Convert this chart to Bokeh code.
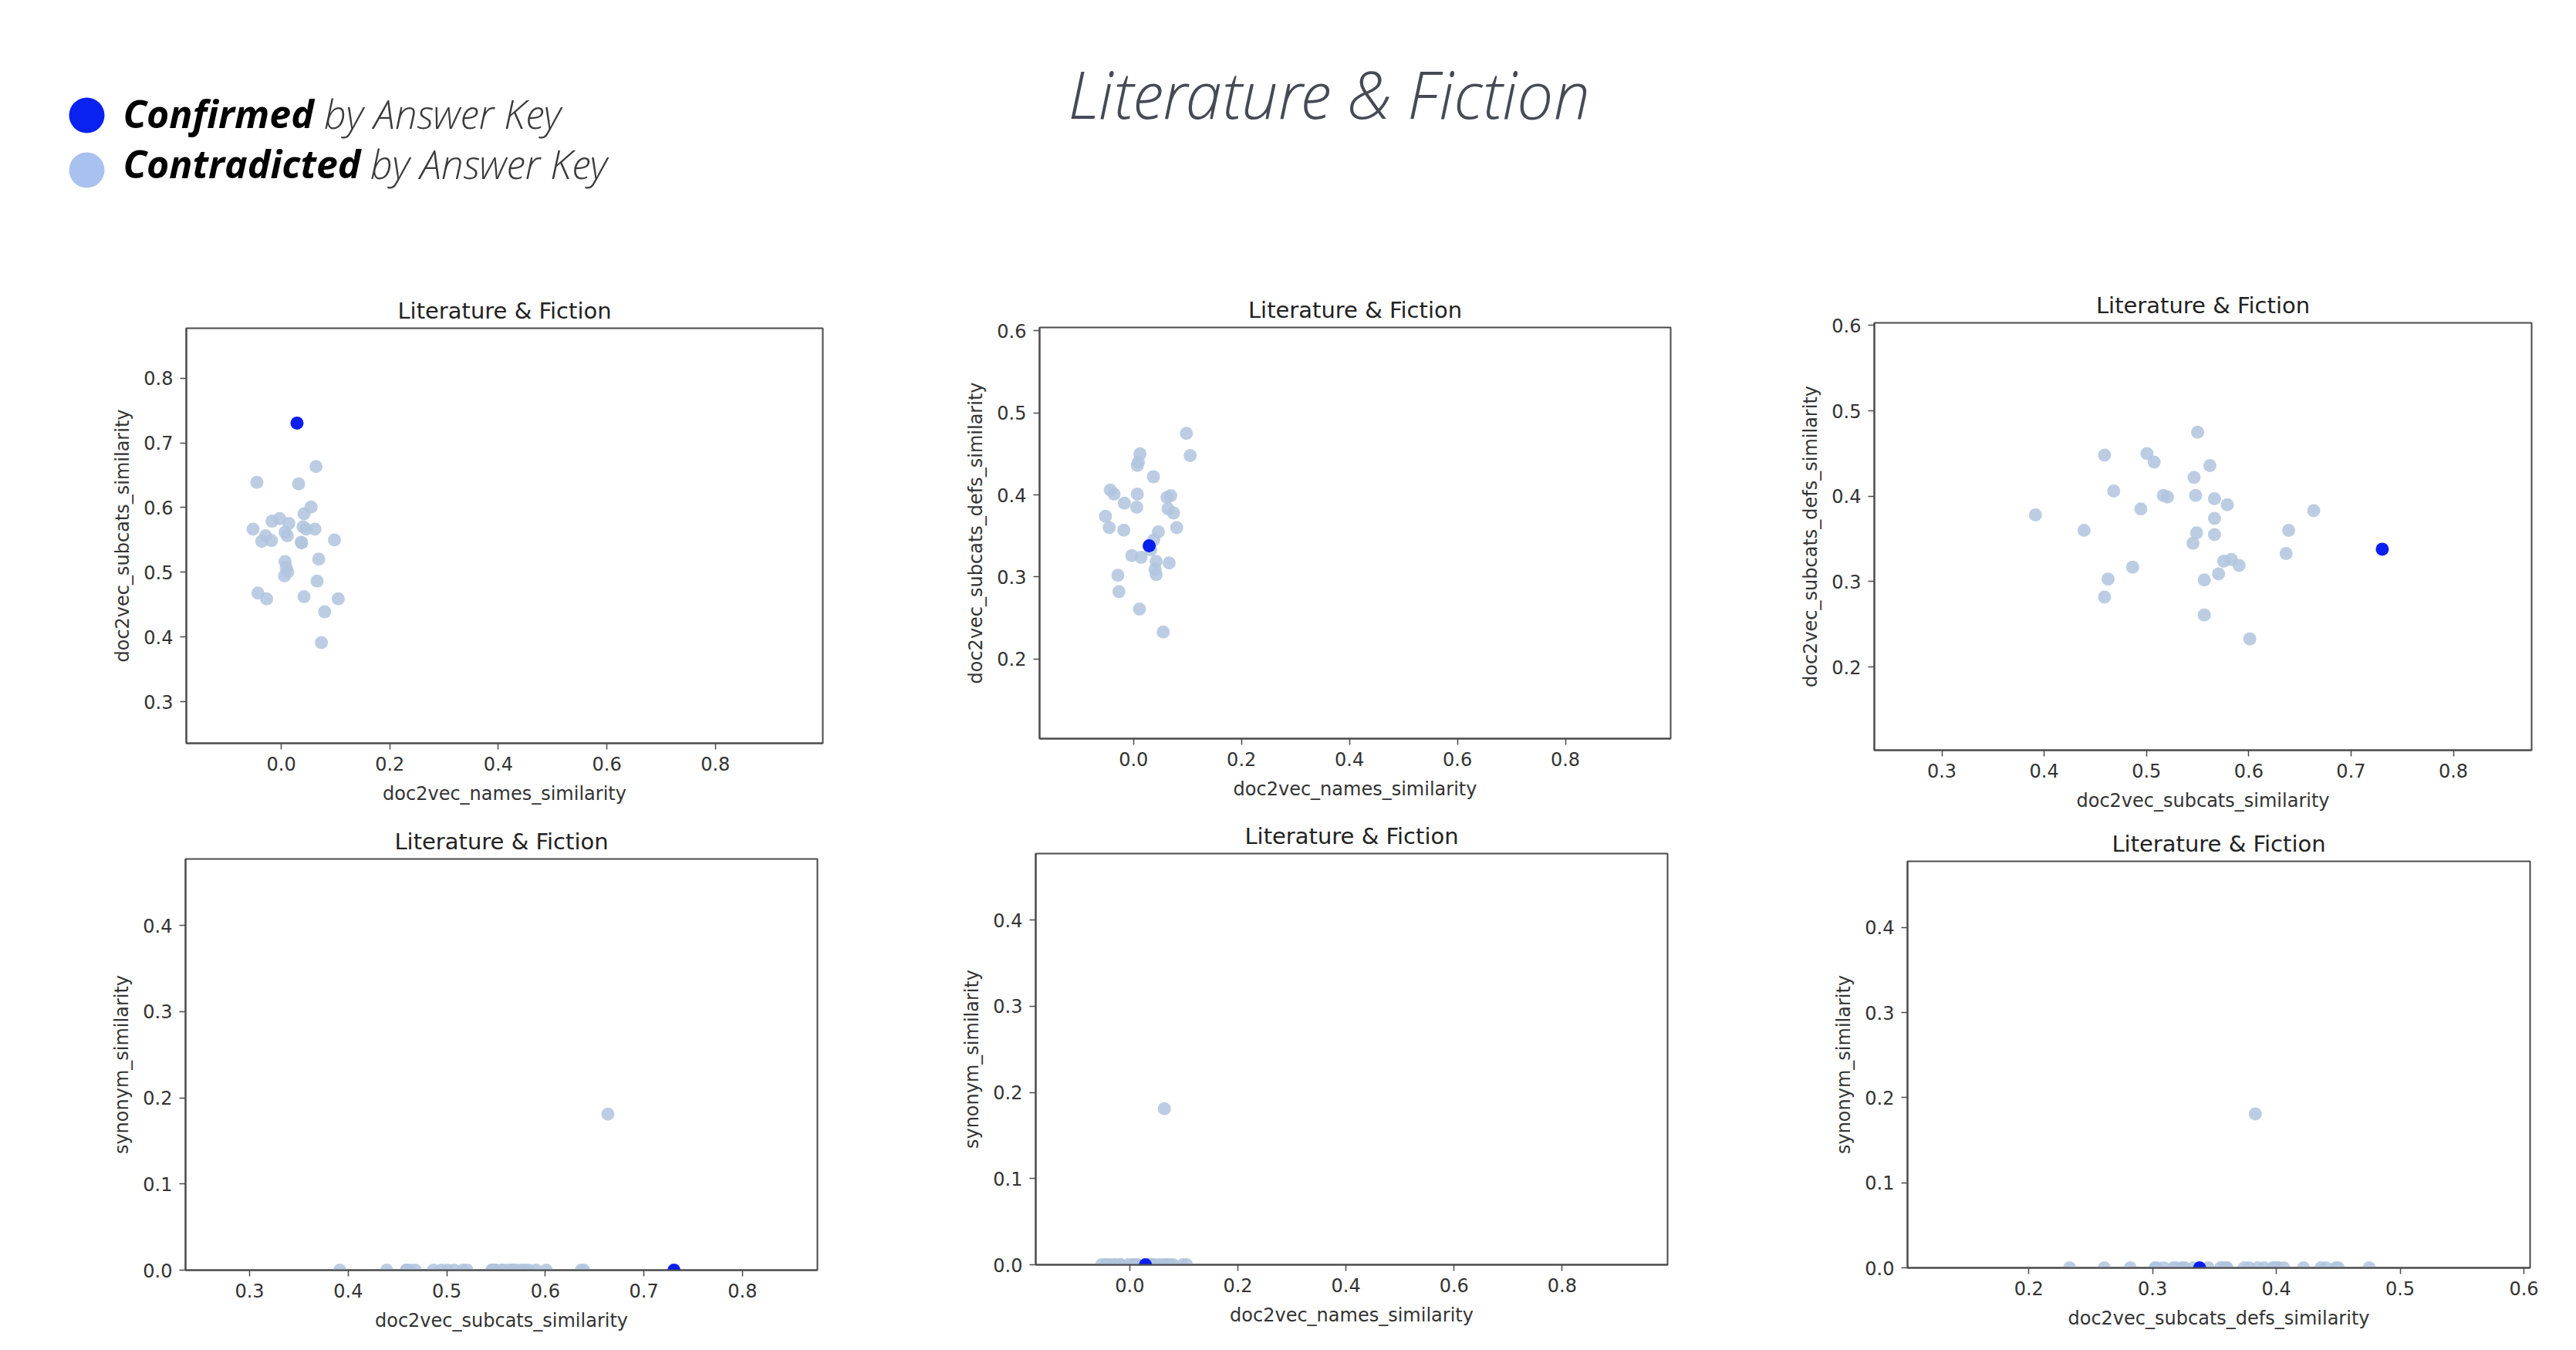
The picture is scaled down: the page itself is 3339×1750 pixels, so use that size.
from bokeh.plotting import figure
from bokeh.layouts import column, row
from bokeh.models import Range1d, FixedTicker, PrintfTickFormatter, ColumnDataSource
from bokeh.core.properties import value
from bokeh.embed import file_html
from bokeh.resources import INLINE

# ---------------- data ----------------
MAIN_TITLE = "Literature & Fiction"
PANEL_TITLE = "Literature & Fiction"
LEGEND_BOLD = ["Confirmed", "Contradicted"]
LEGEND_REST = "by Answer Key"

names_sim = [0.029, 0.098, 0.105, 0.012, 0.009, 0.007, 0.037, -0.043, 0.007, 0.069,
             -0.036, 0.062, -0.017, 0.006, 0.064, 0.074, -0.052, 0.080, -0.045, -0.018,
             0.046, 0.0375, 0.032, 0.014, -0.003, 0.042, 0.066, 0.040, 0.042, -0.029,
             -0.027, 0.011, 0.055]
subcats_sim = [0.7305, 0.550, 0.459, 0.5005, 0.5075, 0.562, 0.5465, 0.468, 0.5165, 0.5205,
               0.548, 0.5665, 0.579, 0.4945, 0.6635, 0.3915, 0.5665, 0.439, 0.639, 0.549,
               0.5665, 0.5455, 0.6365, 0.5755, 0.583, 0.5905, 0.4865, 0.5705, 0.4625, 0.5565,
               0.459, 0.5565, 0.601]
subcats_defs_sim = [0.338, 0.475, 0.448, 0.450, 0.440, 0.436, 0.422, 0.406, 0.401, 0.399,
                    0.401, 0.397, 0.390, 0.385, 0.383, 0.378, 0.374, 0.360, 0.360, 0.357,
                    0.355, 0.345, 0.333, 0.324, 0.326, 0.319, 0.317, 0.309, 0.303, 0.302,
                    0.282, 0.261, 0.233]
synonym_sim = [0.0, 0.0, 0.0, 0.0, 0.0, 0.0, 0.0, 0.0, 0.0, 0.0,
               0.0, 0.0, 0.0, 0.0, 0.181, 0.0, 0.0, 0.0, 0.0, 0.0,
               0.0, 0.0, 0.0, 0.0, 0.0, 0.0, 0.0, 0.0, 0.0, 0.0,
               0.0, 0.0, 0.0]
confirmed = [True] + [False] * 32

ticks_names = [0.0, 0.2, 0.4, 0.6, 0.8]
ticks_subcats_x = [0.3, 0.4, 0.5, 0.6, 0.7, 0.8]
ticks_subcats_y = [0.3, 0.4, 0.5, 0.6, 0.7, 0.8]
ticks_defs_y = [0.2, 0.3, 0.4, 0.5, 0.6]
ticks_defs_x = [0.2, 0.3, 0.4, 0.5, 0.6]
ticks_syn = [0.0, 0.1, 0.2, 0.3, 0.4]

series = {
    "doc2vec_names_similarity": names_sim,
    "doc2vec_subcats_similarity": subcats_sim,
    "doc2vec_subcats_defs_similarity": subcats_defs_sim,
    "synonym_similarity": synonym_sim,
}

# ---------------- styles ----------------
LIGHT = "#b0c4de"
BLUE = "#0a1ef0"
FRAME = "#4a4a4a"
TXT = "#333333"
FONT = "DejaVu Sans"

W = 3331
HEADER_H = 308
ROW1_H = 750
ROW2_H = 684


def panel(xname, yname, xr, yr, xt, yt, w, h, bl, br, bt, bb):
    p = figure(width=w, height=h, x_range=Range1d(*xr), y_range=Range1d(*yr),
               min_border_left=bl, min_border_right=br, min_border_top=bt,
               min_border_bottom=bb, toolbar_location=None, output_backend="svg",
               title=PANEL_TITLE)
    p.title.align = "center"
    p.title.text_font = FONT
    p.title.text_font_size = "29px"
    p.title.text_font_style = "normal"
    p.title.text_color = "#222222"
    p.title.standoff = 12
    p.xgrid.visible = False
    p.ygrid.visible = False
    p.background_fill_color = "white"
    p.border_fill_color = "white"
    p.outline_line_color = FRAME
    p.outline_line_width = 2
    for ax, ticks, lab in ((p.xaxis[0], xt, xname), (p.yaxis[0], yt, yname)):
        ax.ticker = FixedTicker(ticks=ticks)
        ax.formatter = PrintfTickFormatter(format="%.1f")
        ax.axis_label = lab
        ax.axis_label_text_font = FONT
        ax.axis_label_text_font_size = "24px"
        ax.axis_label_text_font_style = "normal"
        ax.axis_label_text_color = TXT
        ax.major_label_text_font = FONT
        ax.major_label_text_font_size = "24px"
        ax.major_label_text_color = TXT
        ax.axis_line_color = FRAME
        ax.axis_line_width = 2
        ax.major_tick_line_color = FRAME
        ax.major_tick_line_width = 1.5
        ax.major_tick_out = 8
        ax.major_tick_in = 0
        ax.minor_tick_out = 0
        ax.minor_tick_in = 0
    p.xaxis[0].major_label_standoff = 9
    p.xaxis[0].axis_label_standoff = 13
    p.yaxis[0].major_label_standoff = 9
    p.yaxis[0].axis_label_standoff = 10

    xs = series[xname]
    ys = series[yname]
    lx = [x for x, c in zip(xs, confirmed) if not c]
    ly = [y for y, c in zip(ys, confirmed) if not c]
    bx = [x for x, c in zip(xs, confirmed) if c]
    by = [y for y, c in zip(ys, confirmed) if c]
    p.scatter(lx, ly, size=17, fill_color=LIGHT, fill_alpha=0.85, line_color=None)
    p.scatter(bx, by, size=17, fill_color=BLUE, line_color=None)
    return p


N, S, D, Y = ("doc2vec_names_similarity", "doc2vec_subcats_similarity",
              "doc2vec_subcats_defs_similarity", "synonym_similarity")

# row 1 spans page y 308..1058, row 2 spans 1058..1742
p1 = panel(N, S, (-0.175, 0.998), (0.236, 0.877), ticks_names, ticks_subcats_y,
           1200, ROW1_H, 241, 134, 117, 95)
p2 = panel(N, D, (-0.174, 0.995), (0.103, 0.604), ticks_names, ticks_defs_y,
           1100, ROW1_H, 147, 135, 116, 101)
p3 = panel(S, D, (0.234, 0.8765), (0.1026, 0.603), ticks_subcats_x, ticks_defs_y,
           1031, ROW1_H, 129, 50, 110, 86)
p4 = panel(S, Y, (0.235, 0.876), (0.0, 0.477), ticks_subcats_x, ticks_syn,
           1200, ROW2_H, 240, 141, 55, 96)
p5 = panel(N, Y, (-0.174, 0.995), (0.0, 0.477), ticks_names, ticks_syn,
           1100, ROW2_H, 142, 139, 47, 103)
p6 = panel(D, Y, (0.102, 0.605), (0.0, 0.478), ticks_defs_x, ticks_syn,
           1031, ROW2_H, 172, 52, 58, 99)

# ---------------- header: legend + main title ----------------
hdr = figure(width=W, height=HEADER_H, x_range=Range1d(0, W), y_range=Range1d(0, HEADER_H),
             min_border=0, min_border_left=0, min_border_right=0, min_border_top=0,
             min_border_bottom=0, toolbar_location=None, output_backend="svg",
             x_axis_type=None, y_axis_type=None)
hdr.outline_line_color = None
hdr.background_fill_color = "white"
hdr.border_fill_color = "white"

leg_src = ColumnDataSource(dict(
    x=[112, 112], y=[159, 88], color=["#0a22f0", "#a9c1ef"],
    tx=[159, 159], ty=[162, 97], bold=LEGEND_BOLD,
    rx=[419, 479], rest=[LEGEND_REST, LEGEND_REST],
))
hdr.scatter("x", "y", size=46, fill_color="color", line_color=None, source=leg_src)
hdr.text("tx", "ty", text="bold", source=leg_src, text_font=value("Open Sans"),
         text_font_size="50px", text_font_style="bold italic", text_color="#000000",
         text_baseline="middle", text_align="left")
hdr.text("rx", "ty", text="rest", source=leg_src, text_font=value("Open Sans Light"),
         text_font_size="52px", text_font_style="italic", text_color="#3a3a3a",
         text_baseline="middle", text_align="left")
hdr.text(x=[1722], y=[188], text=[MAIN_TITLE], text_font=value("Open Sans Light"),
         text_font_size="85px", text_font_style="italic", text_color="#454a55",
         text_baseline="middle", text_align="center")

# wrap each panel in its own column so that frames are not aligned across a row
row1 = row(column(p1), column(p2), column(p3))
row2 = row(column(p4), column(p5), column(p6))
layout = column(hdr, row1, row2)

open("out.html", "w").write(file_html(layout, INLINE))
